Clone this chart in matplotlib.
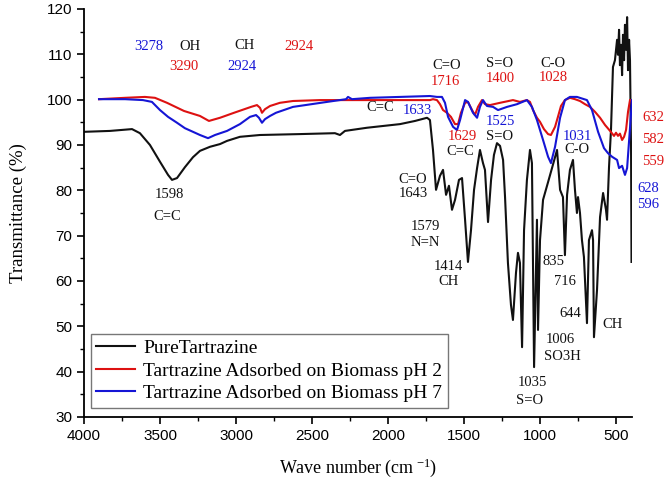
import matplotlib
matplotlib.use("Agg")
import matplotlib.pyplot as plt
from matplotlib.ticker import MultipleLocator

plt.rcParams["mathtext.fontset"] = "custom"
plt.rcParams["mathtext.rm"] = "Liberation Serif"
plt.rcParams["mathtext.it"] = "Liberation Serif:italic"

# ---- data ----
pure_x = [4000, 3829, 3684, 3632, 3566, 3500, 3447, 3421, 3388, 3336, 3283, 3237, 3171, 3105,
          3059, 2974, 2842, 2579, 2349, 2316, 2283, 2138, 1921, 1822, 1743, 1724, 1704, 1684,
          1658, 1638, 1618, 1599, 1579, 1559, 1533, 1513, 1493, 1474, 1454, 1434, 1414, 1395,
          1375, 1362, 1342, 1322, 1303, 1283, 1263, 1243, 1230, 1211, 1191, 1178, 1158, 1145,
          1132, 1118, 1105, 1086, 1066, 1053, 1039, 1020, 1013, 1000, 980, 947, 921, 888, 868,
          849, 836, 822, 803, 783, 770, 757, 750, 737, 724, 711, 691, 678, 658, 651, 645, 625,
          605, 585, 566, 559, 546, 533, 520, 507, 493, 487, 480, 474, 467, 460, 454, 447, 441,
          434, 427, 421, 414, 408, 401, 398]
pure_y = [92.9, 93.1, 93.5, 92.6, 90.0, 86.3, 83.4, 82.3, 82.7, 85.1, 87.3, 88.7, 89.6, 90.2,
          90.9, 91.8, 92.2, 92.4, 92.6, 92.2, 93.1, 93.8, 94.6, 95.3, 96.0, 95.5, 88.9, 80.1,
          83.2, 84.5, 79.0, 81.0, 75.7, 77.9, 82.3, 82.7, 73.5, 64.2, 71.2, 80.1, 84.9, 88.9,
          86.0, 84.5, 73.0, 82.3, 87.8, 90.4, 89.8, 86.7, 78.5, 64.0, 54.7, 51.4, 61.8, 66.2,
          64.0, 45.4, 71.2, 82.3, 88.9, 86.0, 41.0, 73.5, 49.2, 69.0, 77.9, 81.8, 84.9, 88.9, 80.1,
          78.5, 65.7, 79.0, 84.5, 86.7, 80.1, 75.0, 78.5, 75.0, 69.0, 65.3, 50.7, 69.0, 71.2, 69.0,
          47.6, 58.0, 74.1, 79.4, 75.7, 73.5, 85.1, 93.3, 107.2, 108.7, 113.2, 109.9, 115.4, 107.6,
          112.1, 105.4, 114.3, 108.7, 116.5, 111.0, 118.2, 106.5, 113.2, 108.7, 88.9, 64.2]

ph2_x = [3901, 3730, 3599, 3533, 3454, 3342, 3237, 3178, 3105, 3013, 2901, 2862, 2842, 2829,
         2809, 2776, 2711, 2625, 2447, 2053, 1789, 1724, 1704, 1678, 1658, 1638, 1612, 1586,
         1559, 1539, 1520, 1493, 1474, 1447, 1428, 1408, 1382, 1362, 1329, 1263, 1178, 1132,
         1086, 1066, 1046, 1020, 1000, 974, 947, 928, 901, 882, 862, 836, 803, 770, 737, 704,
         671, 638, 605, 572, 539, 513, 500, 487, 474, 460, 447, 434, 421, 408]
ph2_y = [100.1, 100.4, 100.6, 100.4, 99.3, 97.5, 96.4, 95.3, 96.0, 97.1, 98.4, 98.8, 98.2, 97.1,
         97.9, 98.6, 99.3, 99.7, 99.9, 99.9, 99.9, 99.9, 100.1, 99.9, 99.0, 97.7, 97.1, 96.2,
         94.6, 94.6, 97.1, 99.3, 99.5, 97.7, 96.6, 98.4, 99.9, 99.0, 98.8, 99.3, 99.9, 99.5,
         99.9, 99.5, 97.7, 96.0, 95.1, 93.5, 92.4, 92.2, 94.0, 96.2, 98.6, 99.9, 100.4, 100.1,
         99.7, 99.0, 98.4, 97.3, 96.0, 94.4, 93.1, 92.0, 92.7, 92.0, 92.5, 91.1, 91.8, 93.3,
         97.3, 99.9]

ph7_x = [3901, 3730, 3612, 3553, 3500, 3447, 3388, 3336, 3283, 3237, 3184, 3138, 3059, 2974,
         2908, 2868, 2849, 2829, 2809, 2776, 2737, 2625, 2401, 2276, 2263, 2237, 2118, 1921,
         1724, 1678, 1645, 1625, 1605, 1572, 1546, 1526, 1493, 1474, 1441, 1414, 1395, 1375,
         1349, 1309, 1276, 1217, 1151, 1086, 1053, 1020, 980, 947, 928, 901, 868, 836, 803, 757,
         691, 658, 618, 579, 553, 526, 493, 480, 460, 441, 427, 408, 395]
ph7_y = [100.1, 100.1, 99.9, 99.5, 97.7, 96.2, 94.9, 93.7, 92.9, 92.2, 91.5, 92.2, 93.1, 94.6,
         96.2, 96.6, 96.0, 94.9, 95.7, 96.4, 97.1, 98.4, 99.5, 100.1, 100.6, 100.1, 100.4, 100.6,
         100.8, 100.6, 100.6, 99.3, 96.2, 94.0, 93.3, 95.5, 99.9, 99.5, 97.1, 96.0, 98.4, 99.9,
         98.6, 98.4, 97.7, 98.4, 99.0, 99.9, 98.4, 95.5, 91.1, 87.4, 86.0, 89.6, 96.0, 99.9,
         100.6, 100.6, 99.9, 97.7, 92.9, 89.3, 88.2, 87.4, 86.7, 84.9, 85.4, 83.4, 84.9, 93.7,
         99.9]

series_labels = ["PureTartrazine", "Tartrazine Adsorbed on Biomass pH 2",
                 "Tartrazine Adsorbed on Biomass pH 7"]

# annotations: (text, x, y, colour key)
annotations = [
    ("3278", 3572, 111.8, "b"), ("OH", 3303, 111.8, "k"), ("3290", 3342, 107.4, "r"),
    ("CH", 2941, 112.0, "k"), ("2924", 2586, 111.8, "r"), ("2924", 2961, 107.4, "b"),
    ("C=C", 2053, 98.2, "k"), ("1633", 1809, 97.7, "b"),
    ("C=O", 1612, 107.6, "k"), ("1716", 1625, 103.9, "r"),
    ("S=O", 1263, 108.0, "k"), ("1400", 1263, 104.6, "r"),
    ("C-O", 914, 108.0, "k"), ("1028", 914, 104.8, "r"),
    ("1629", 1513, 91.8, "r"), ("1525", 1263, 95.1, "b"), ("S=O", 1263, 91.8, "k"),
    ("C=C", 1526, 88.5, "k"), ("1031", 757, 91.8, "b"), ("C-O", 757, 88.9, "k"),
    ("632", 257, 96.0, "r"), ("582", 257, 91.1, "r"), ("559", 257, 86.3, "r"),
    ("628", 289, 80.5, "b"), ("596", 289, 76.8, "b"),
    ("C=O", 1835, 82.3, "k"), ("1643", 1835, 79.4, "k"),
    ("1579", 1757, 72.1, "k"), ("N=N", 1757, 68.4, "k"),
    ("1414", 1605, 63.1, "k"), ("CH", 1605, 59.8, "k"),
    ("835", 914, 64.2, "k"), ("716", 836, 59.8, "k"), ("644", 803, 52.9, "k"),
    ("CH", 520, 50.3, "k"), ("1006", 868, 47.0, "k"), ("SO3H", 855, 43.4, "k"),
    ("1035", 1053, 37.7, "k"), ("S=O", 1066, 33.7, "k"),
    ("1598", 3441, 79.0, "k"), ("C=C", 3454, 74.3, "k"),
]

colors = {"k": "#111111", "r": "#dd1111", "b": "#1515d5"}
serif = ["Liberation Serif", "DejaVu Serif"]
sans = ["Liberation Sans", "DejaVu Sans"]

fig = plt.figure(figsize=(6.66, 4.82), dpi=100)
ax = fig.add_axes([0.1261, 0.1349, 0.8228, 0.8465])

ax.plot(pure_x, pure_y, color=colors["k"], lw=1.5, label=series_labels[0])
ax.plot(ph2_x, ph2_y, color=colors["r"], lw=1.5, label=series_labels[1])
ax.plot(ph7_x, ph7_y, color=colors["b"], lw=1.5, label=series_labels[2])

for txt, x, y, c in annotations:
    ax.text(x, y, txt, color=colors[c], fontsize=10.5, family=serif,
            ha="center", va="center", clip_on=False)

ax.set_xlim(4000, 395)
ax.set_ylim(30, 120)
ax.xaxis.set_major_locator(MultipleLocator(500))
ax.xaxis.set_minor_locator(MultipleLocator(250))
ax.yaxis.set_major_locator(MultipleLocator(10))
ax.yaxis.set_minor_locator(MultipleLocator(5))
ax.tick_params(which="major", direction="out", length=5, width=1.2)
ax.tick_params(which="minor", direction="out", length=3, width=1.0)
for lab in ax.get_xticklabels() + ax.get_yticklabels():
    lab.set_family(sans)
    lab.set_fontsize(11)
ax.spines["top"].set_visible(False)
ax.spines["right"].set_visible(False)
ax.spines["left"].set_linewidth(1.3)
ax.spines["bottom"].set_linewidth(1.3)

ax.set_xlabel("Wave number (cm$^{\\ \\mathregular{-1}}$)", family=serif, fontsize=13, labelpad=10)
ax.set_ylabel("Transmittance (%)", family=serif, fontsize=13.5, labelpad=14)

leg = ax.legend(loc="lower left", bbox_to_anchor=(0.012, 0.022), frameon=True, fancybox=False,
                prop={"family": serif, "size": 14}, handlelength=2.0, borderpad=0.3,
                labelspacing=0.25, handletextpad=0.4, borderaxespad=0.0)
leg.get_frame().set_edgecolor("#555555")
leg.get_frame().set_linewidth(1.0)

fig.savefig("out.png", dpi=100)
